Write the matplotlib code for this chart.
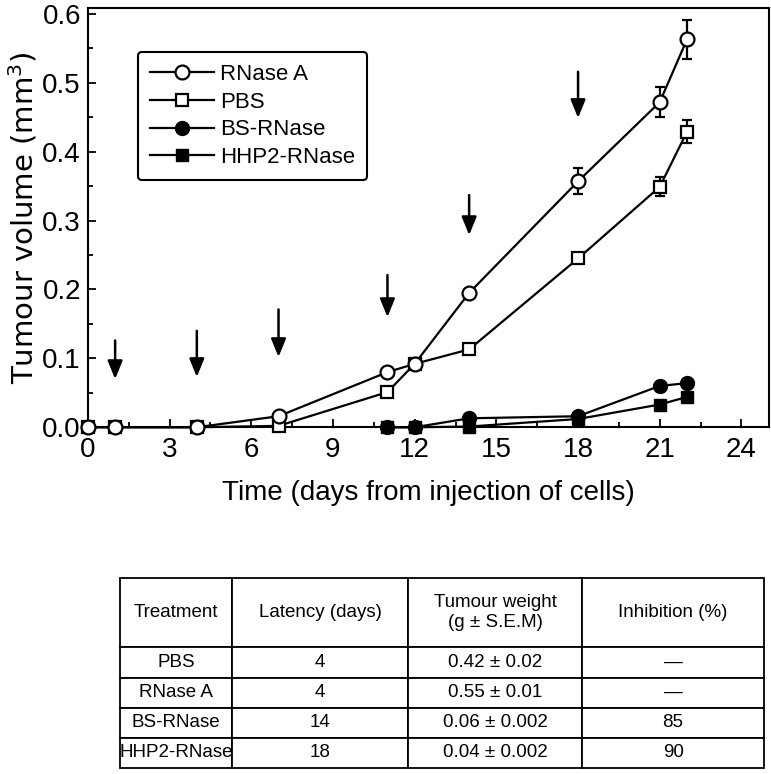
import numpy as np
import matplotlib
matplotlib.use("Agg")
import matplotlib.pyplot as plt

plt.rcParams['font.family'] = ['Liberation Sans', 'DejaVu Sans']

# tumour volume (mm3) vs days
days_a = [0, 1, 4, 7, 11, 12, 14, 18, 21, 22]
rnase_a = [0, 0, 0, 0.016, 0.080, 0.092, 0.195, 0.357, 0.472, 0.563]
rnase_a_err = [0, 0, 0, 0, 0, 0, 0, 0.019, 0.022, 0.028]
pbs = [0, 0, 0, 0.002, 0.051, 0.092, 0.113, 0.245, 0.349, 0.429]
pbs_err = [0, 0, 0, 0, 0, 0, 0, 0, 0.014, 0.017]

days_b = [11, 12, 14, 18, 21, 22]
bs_rnase = [0, 0, 0.013, 0.016, 0.060, 0.064]
hhp2_rnase = [0, 0, 0.001, 0.012, 0.033, 0.044]

# injection arrows
arrow_days = [1, 4, 7, 11, 14, 18]
arrow_top = [0.126, 0.140, 0.171, 0.221, 0.337, 0.516]
arrow_tip = [0.070, 0.073, 0.102, 0.160, 0.279, 0.449]

# table
col_labels = ["Treatment", "Latency (days)", "Tumour weight\n(g ± S.E.M)", "Inhibition (%)"]
treatments = ["PBS", "RNase A", "BS-RNase", "HHP2-RNase"]
latency = ["4", "4", "14", "18"]
weights = ["0.42 ± 0.02", "0.55 ± 0.01", "0.06 ± 0.002", "0.04 ± 0.002"]
inhibition = ["—", "—", "85", "90"]

fig = plt.figure(figsize=(7.71, 7.74), dpi=100)
ax = fig.add_axes([0.114, 0.448, 0.883, 0.542])

lkw = dict(color='black', lw=1.6, clip_on=False)
ekw = dict(fmt='none', ecolor='black', capsize=3.5, elinewidth=1.6, capthick=1.6, clip_on=False)
l4, = ax.plot(days_b, hhp2_rnase, marker='s', ms=9, mfc='black', mec='black', zorder=3, **lkw)
l3, = ax.plot(days_b, bs_rnase, marker='o', ms=10, mfc='black', mec='black', zorder=3, **lkw)
ax.errorbar(days_a, pbs, yerr=pbs_err, zorder=4, **ekw)
l2, = ax.plot(days_a, pbs, marker='s', ms=9, mfc='white', mec='black', mew=1.6, zorder=4, **lkw)
ax.errorbar(days_a, rnase_a, yerr=rnase_a_err, zorder=5, **ekw)
l1, = ax.plot(days_a, rnase_a, marker='o', ms=10, mfc='white', mec='black', mew=1.6, zorder=5, **lkw)

for d, t0, t1 in zip(arrow_days, arrow_top, arrow_tip):
    ax.annotate('', xy=(d, t1), xytext=(d, t0),
                arrowprops=dict(arrowstyle='-|>,head_length=1.1,head_width=0.45', color='black',
                                lw=1.8, shrinkA=0, shrinkB=0))

ax.set_xlim(0, 25)
ax.set_ylim(0, 0.609)
ax.set_xticks(np.arange(0, 25, 3))
ax.set_xticks(np.arange(1.5, 25, 3), minor=True)
ax.set_yticks(np.arange(0, 0.61, 0.1))
ax.set_yticks(np.arange(0.05, 0.6, 0.1), minor=True)
ax.yaxis.set_major_formatter(matplotlib.ticker.FormatStrFormatter('%.1f'))
ax.tick_params(which='both', direction='in', width=1.3, labelsize=20)
ax.tick_params(which='major', length=6)
ax.tick_params(which='minor', length=3.5)
ax.tick_params(axis='x', pad=7)
ax.tick_params(axis='y', pad=5)
for s in ax.spines.values():
    s.set_linewidth(1.5)
ax.set_xlabel("Time (days from injection of cells)", fontsize=20, labelpad=12)
ax.set_ylabel("Tumour volume (mm$^3$)", fontsize=21, labelpad=2,
              family=['DejaVu Sans'])

leg = ax.legend([l1, l2, l3, l4], ['RNase A', 'PBS', 'BS-RNase', 'HHP2-RNase'], loc='upper left',
                bbox_to_anchor=(0.073, 0.895), borderaxespad=0, fontsize=16,
                frameon=True, fancybox=True, edgecolor='black', framealpha=1,
                handlelength=2.9, handletextpad=0.25, labelspacing=0.3, borderpad=0.55)
leg.get_frame().set_linewidth(1.5)

# table below the chart
tax = fig.add_axes([0.156, 0.008, 0.835, 0.245])
tax.axis('off')
cells = [[a, b, c, d] for a, b, c, d in zip(treatments, latency, weights, inhibition)]
tbl = tax.table(cellText=cells, colLabels=col_labels, cellLoc='center',
                colWidths=[112, 176, 174, 182], bbox=[0, 0, 1, 1])
tbl.auto_set_font_size(False)
tbl.set_fontsize(13.5)
for (r, c), cell in tbl.get_celld().items():
    cell.set_linewidth(1.3)
    cell.set_edgecolor('black')
    cell.set_height(2.3 if r == 0 else 1.0)
    cell.PAD = 0.02

fig.savefig("out.png", dpi=100)
